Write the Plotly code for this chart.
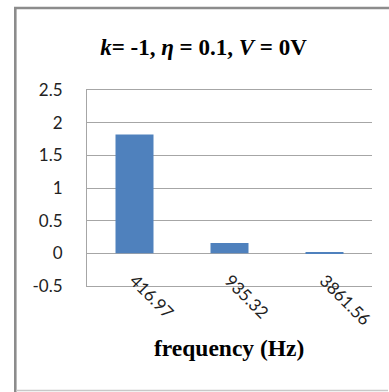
import plotly.graph_objects as go

# Spectrum amplitudes at the three dominant frequencies
frequencies = ["416.97", "935.32", "3861.56"]
amplitudes = [1.82, 0.16, 0.02]
y_ticks = [-0.5, 0, 0.5, 1, 1.5, 2, 2.5]
y_tick_text = ["-0.5", "0", "0.5", "1", "1.5", "2", "2.5"]

W, H = 389, 392
L, R, T, B = 87, 17, 90, 106
plot_w = W - L - R
plot_h = H - T - B


def px_x(x):
    return (x - L) / plot_w


def px_y(y):
    return (H - B - y) / plot_h


fig = go.Figure(
    go.Bar(
        x=frequencies,
        y=amplitudes,
        marker=dict(color="#4F81BD", line=dict(width=0)),
    )
)

grid = "#a6a6a6"
fig.update_layout(
    width=W,
    height=H,
    margin=dict(l=L, r=R, t=T, b=B),
    paper_bgcolor="white",
    plot_bgcolor="white",
    bargap=0.6,
    showlegend=False,
    title=dict(
        text="<b><i>k</i>= -1, <i>η</i> = 0.1, <i>V</i> = 0V</b>",
        font=dict(family="Liberation Serif", size=23, color="black"),
        x=203.5 / W,
        xanchor="center",
        xref="container",
        y=1 - 47 / H,
        yanchor="middle",
        yref="container",
    ),
    xaxis=dict(
        type="category",
        tickangle=45,
        tickfont=dict(family="Lato", size=17, color="#222"),
        ticklabelstandoff=-23,
        showline=True,
        mirror=True,
        linecolor=grid,
        linewidth=1,
        showgrid=False,
        ticks="",
    ),
    yaxis=dict(
        range=[-0.5, 2.5],
        tickvals=y_ticks,
        ticktext=y_tick_text,
        tickfont=dict(family="Lato", size=17, color="#222"),
        showgrid=True,
        gridcolor=grid,
        gridwidth=1,
        zeroline=True,
        zerolinecolor=grid,
        zerolinewidth=1,
        showline=True,
        linecolor=grid,
        linewidth=1,
        ticks="",
        ticklabelstandoff=20,
    ),
)

# x-axis title
fig.add_annotation(
    text="<b>frequency (Hz)</b>",
    xref="paper", yref="paper",
    x=px_x(228.5), y=px_y(348),
    xanchor="center", yanchor="middle",
    showarrow=False,
    font=dict(family="Liberation Serif", size=23.5, color="black"),
)

# panel label sitting above the chart frame
fig.add_annotation(
    text="<b>(a)</b>",
    xref="paper", yref="paper",
    x=px_x(208), y=px_y(2),
    xanchor="center", yanchor="bottom",
    showarrow=False,
    font=dict(family="Liberation Serif", size=22, color="black"),
)

# chart frame
frame = "#8c8c8c"
fig.add_shape(type="line", xref="paper", yref="paper",
              x0=px_x(15.3), x1=px_x(15.3), y0=px_y(8), y1=px_y(392),
              line=dict(color=frame, width=2.6))
fig.add_shape(type="line", xref="paper", yref="paper",
              x0=px_x(14), x1=px_x(392), y0=px_y(8), y1=px_y(8),
              line=dict(color=frame, width=2.6))
fig.add_shape(type="line", xref="paper", yref="paper",
              x0=px_x(16), x1=px_x(388), y0=px_y(390.5), y1=px_y(390.5),
              line=dict(color="#c8c8c8", width=1.5))

fig.write_html("out.html")
